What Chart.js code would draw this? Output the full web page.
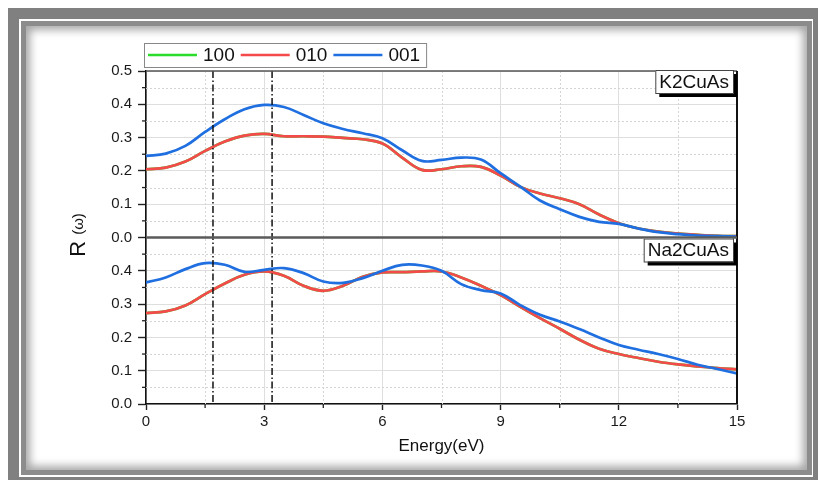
<!DOCTYPE html>
<html>
<head>
<meta charset="utf-8">
<script src="https://cdn.jsdelivr.net/npm/chart.js@4/dist/chart.umd.min.js"></script>
<style>
  html, body { margin: 0; padding: 0; background: #fff; width: 818px; height: 480px; overflow: hidden; }
  #outer { position: absolute; left: 8px; top: 8px; width: 794px; height: 458px; border: 11px solid #808080; }
  #inner { position: absolute; left: 21px; top: 21px; width: 781px; height: 444px; border: 5px solid #8c8c8c;
           box-shadow: inset 0 0 9px 4px rgba(0,0,0,0.35); }
  #wrap { position: absolute; left: 0; top: 0; width: 818px; height: 480px; }
</style>
</head>
<body>
<div id="outer"></div>
<div id="inner"></div>
<div id="wrap"><canvas id="chart" width="818" height="480"></canvas></div>
<script>
// Photon energy grid (eV)
const energy = [0, 0.5, 1, 1.5, 2, 2.5, 3, 3.5, 4, 4.5, 5, 5.5, 6, 6.5, 7, 7.5,
                8, 8.5, 9, 9.5, 10, 10.5, 11, 11.5, 12, 12.5, 13, 13.5, 14, 14.5, 15];

// Reflectivity R(w) of K2CuAs along [100], [010], [001]
const k2_100 = [0.205, 0.210, 0.228, 0.260, 0.288, 0.306, 0.311, 0.304, 0.304, 0.303, 0.299, 0.295, 0.282, 0.240, 0.203, 0.205,
                0.214, 0.212, 0.186, 0.152, 0.132, 0.118, 0.100, 0.069, 0.043, 0.027, 0.018, 0.012, 0.008, 0.005, 0.004];
const k2_010 = [0.205, 0.210, 0.228, 0.260, 0.288, 0.306, 0.311, 0.304, 0.304, 0.303, 0.299, 0.295, 0.282, 0.240, 0.203, 0.205,
                0.214, 0.212, 0.186, 0.152, 0.132, 0.118, 0.100, 0.069, 0.043, 0.027, 0.018, 0.012, 0.008, 0.005, 0.004];
const k2_001 = [0.245, 0.252, 0.275, 0.317, 0.355, 0.385, 0.398, 0.392, 0.368, 0.343, 0.326, 0.313, 0.298, 0.262, 0.230, 0.233,
                0.240, 0.234, 0.193, 0.153, 0.111, 0.085, 0.062, 0.047, 0.041, 0.027, 0.016, 0.010, 0.006, 0.004, 0.003];

// Reflectivity R(w) of Na2CuAs along [100], [010], [001]
const na2_100 = [0.273, 0.278, 0.296, 0.330, 0.362, 0.388, 0.398, 0.385, 0.355, 0.340, 0.355, 0.382, 0.395, 0.396, 0.398, 0.398,
                 0.380, 0.355, 0.327, 0.292, 0.258, 0.226, 0.193, 0.166, 0.150, 0.138, 0.127, 0.119, 0.113, 0.108, 0.104];
const na2_010 = [0.273, 0.278, 0.296, 0.330, 0.362, 0.388, 0.398, 0.385, 0.355, 0.340, 0.355, 0.382, 0.395, 0.396, 0.398, 0.398,
                 0.380, 0.355, 0.327, 0.292, 0.258, 0.226, 0.193, 0.166, 0.150, 0.138, 0.127, 0.119, 0.113, 0.108, 0.104];
const na2_001 = [0.365, 0.380, 0.405, 0.423, 0.418, 0.397, 0.403, 0.408, 0.393, 0.368, 0.364, 0.378, 0.400, 0.418, 0.416, 0.400,
                 0.360, 0.342, 0.332, 0.297, 0.268, 0.248, 0.225, 0.200, 0.177, 0.163, 0.150, 0.135, 0.118, 0.105, 0.092];

const seriesLabels = ['100', '010', '001'];
const panelNames = ['K2CuAs', 'Na2CuAs'];
const xTicks = [0, 3, 6, 9, 12, 15];
const xMinorTicks = [1.5, 4.5, 7.5, 10.5, 13.5];
const yTicksTop = [0, 0.1, 0.2, 0.3, 0.4, 0.5];
const yTicksBottom = [0, 0.1, 0.2, 0.3, 0.4];
const yMinorTicks = [0.05, 0.15, 0.25, 0.35, 0.45];
const markerEnergies = [1.7, 3.2];   // band-edge markers

const seriesColors = ['#2bdc2b', '#f54a4a', '#1f6fe0'];
const FONT = 'Arial, "Liberation Sans", sans-serif';

function points(arr) {
  return energy.map((e, i) => ({ x: e, y: arr[i] }));
}

function makeSet(label, values, colorIdx, axis) {
  return {
    label: label,
    data: points(values),
    yAxisID: axis,
    borderColor: seriesColors[colorIdx],
    borderWidth: 2.7,
    pointRadius: 0,
    fill: false,
    tension: 0.4,
    order: 2 - colorIdx
  };
}

const datasets = [
  makeSet(seriesLabels[0], k2_100, 0, 'yTop'),
  makeSet(seriesLabels[1], k2_010, 1, 'yTop'),
  makeSet(seriesLabels[2], k2_001, 2, 'yTop'),
  makeSet(seriesLabels[0], na2_100, 0, 'yBot'),
  makeSet(seriesLabels[1], na2_010, 1, 'yBot'),
  makeSet(seriesLabels[2], na2_001, 2, 'yBot')
];

function yScaleOpts(tickList, weight) {
  return {
    type: 'linear',
    position: 'left',
    stack: 'panels',
    stackWeight: 1,
    weight: weight,
    min: 0,
    max: 0.5,
    afterBuildTicks: s => { s.ticks = tickList.map(v => ({ value: v })); },
    afterFit: s => { s.width = 146; },
    ticks: {
      font: { family: FONT, size: 15 },
      color: '#1a1a1a',
      padding: 6,
      autoSkip: false,
      callback: v => Number(v).toFixed(1)
    },
    grid: { color: '#dedede', lineWidth: 1, tickColor: '#222', tickLength: 8, tickWidth: 1.4 },
    border: { color: '#111', width: 1.6 }
  };
}

// Minor grid, minor ticks, panel frame, markers, tags, legend and y title
const decor = {
  id: 'decor',
  beforeDatasetsDraw(chart) {
    const { ctx, chartArea: a } = chart;
    const x = chart.scales.x, yt = chart.scales.yTop, yb = chart.scales.yBot;
    ctx.save();
    ctx.strokeStyle = '#d4d4d4';
    ctx.lineWidth = 1;
    ctx.setLineDash([2, 2]);
    xMinorTicks.forEach(v => {
      const px = Math.round(x.getPixelForValue(v)) + 0.5;
      ctx.beginPath(); ctx.moveTo(px, a.top); ctx.lineTo(px, a.bottom); ctx.stroke();
    });
    [yt, yb].forEach(s => {
      yMinorTicks.forEach(v => {
        const py = Math.round(s.getPixelForValue(v)) + 0.5;
        ctx.beginPath(); ctx.moveTo(a.left, py); ctx.lineTo(a.right, py); ctx.stroke();
      });
    });
    ctx.restore();
  },
  afterDatasetsDraw(chart) {
    const { ctx, chartArea: a } = chart;
    const x = chart.scales.x, yt = chart.scales.yTop, yb = chart.scales.yBot;
    ctx.save();

    // dash-dot markers
    ctx.strokeStyle = '#111';
    ctx.lineWidth = 1.5;
    ctx.setLineDash([7, 2.5, 1.5, 2.5]);
    markerEnergies.forEach(e => {
      const px = x.getPixelForValue(e);
      ctx.beginPath(); ctx.moveTo(px, a.top); ctx.lineTo(px, a.bottom); ctx.stroke();
    });
    ctx.setLineDash([]);

    // minor ticks
    ctx.strokeStyle = '#222';
    ctx.lineWidth = 1.3;
    xMinorTicks.forEach(v => {
      const px = x.getPixelForValue(v);
      ctx.beginPath(); ctx.moveTo(px, a.bottom); ctx.lineTo(px, a.bottom + 4); ctx.stroke();
    });
    [yt, yb].forEach(s => {
      yMinorTicks.forEach(v => {
        const py = s.getPixelForValue(v);
        ctx.beginPath(); ctx.moveTo(a.left, py); ctx.lineTo(a.left - 4, py); ctx.stroke();
      });
    });

    // panel frame
    ctx.strokeStyle = '#555';
    ctx.lineWidth = 1.6;
    ctx.beginPath(); ctx.moveTo(a.left, a.top); ctx.lineTo(a.right, a.top); ctx.stroke();
    ctx.strokeStyle = '#111';
    ctx.lineWidth = 2;
    ctx.beginPath(); ctx.moveTo(a.right, a.top); ctx.lineTo(a.right, a.bottom); ctx.stroke();
    ctx.strokeStyle = '#5a5a5a';
    ctx.lineWidth = 2.4;
    const mid = yt.getPixelForValue(0);
    ctx.beginPath(); ctx.moveTo(a.left, mid); ctx.lineTo(a.right, mid); ctx.stroke();

    // panel tags
    function tag(text, right, top) {
      ctx.font = '19px ' + FONT;
      const w = ctx.measureText(text).width + 8, h = 23;
      const left = right - w;
      ctx.fillStyle = '#000';
      ctx.fillRect(left + 4, top + 4, w, h);
      ctx.fillStyle = '#fff';
      ctx.fillRect(left, top, w, h);
      ctx.strokeStyle = '#444';
      ctx.lineWidth = 1;
      ctx.strokeRect(left + 0.5, top + 0.5, w, h);
      ctx.fillStyle = '#111';
      ctx.textAlign = 'center';
      ctx.textBaseline = 'middle';
      ctx.fillText(text, left + w / 2, top + h / 2 + 1);
    }
    tag(panelNames[0], a.right - 4, a.top - 1);
    tag(panelNames[1], a.right - 4, mid + 1);

    // legend
    ctx.font = '19px ' + FONT;
    const lgTop = a.top - 28, lgH = 24, lgLeft = a.left - 2;
    let cx = lgLeft + 4;
    const items = seriesLabels.map((t, i) => ({ t, c: seriesColors[i] }));
    let total = 4;
    items.forEach(it => { total += 49 + 6 + ctx.measureText(it.t).width + 6; });
    ctx.fillStyle = '#fff';
    ctx.fillRect(lgLeft, lgTop, total, lgH);
    ctx.strokeStyle = '#888';
    ctx.lineWidth = 1;
    ctx.strokeRect(lgLeft + 0.5, lgTop + 0.5, total, lgH);
    items.forEach(it => {
      const cy = lgTop + lgH / 2;
      ctx.strokeStyle = it.c;
      ctx.lineWidth = 2.5;
      ctx.beginPath(); ctx.moveTo(cx, cy); ctx.lineTo(cx + 49, cy); ctx.stroke();
      cx += 49 + 6;
      ctx.fillStyle = '#111';
      ctx.textAlign = 'left';
      ctx.textBaseline = 'middle';
      ctx.fillText(it.t, cx, cy + 1);
      cx += ctx.measureText(it.t).width + 6;
    });

    // y title
    ctx.translate(79, 235);
    ctx.rotate(-Math.PI / 2);
    ctx.fillStyle = '#111';
    ctx.textBaseline = 'middle';
    ctx.textAlign = 'left';
    ctx.font = '22px ' + FONT;
    const rW = ctx.measureText('R ').width;
    ctx.font = '15px ' + FONT;
    const wW = ctx.measureText('(\u03c9)').width;
    let tx = -(rW + wW) / 2;
    ctx.font = '22px ' + FONT;
    ctx.fillText('R ', tx, 0);
    ctx.font = '15px ' + FONT;
    ctx.fillText('(\u03c9)', tx + rW, 0);

    ctx.restore();
  }
};

new Chart(document.getElementById('chart'), {
  type: 'line',
  data: { datasets },
  options: {
    responsive: false,
    animation: false,
    layout: { padding: { left: 0, top: 71, right: 81, bottom: 19 } },
    plugins: { legend: { display: false }, tooltip: { enabled: false } },
    scales: {
      x: {
        type: 'linear',
        position: 'bottom',
        min: 0,
        max: 15,
        afterBuildTicks: s => { s.ticks = xTicks.map(v => ({ value: v })); },
        afterFit: s => { s.height = 57; },
        ticks: {
          font: { family: FONT, size: 15 },
          color: '#1a1a1a',
          padding: 3,
          maxRotation: 0,
          autoSkip: false,
          callback: v => String(v)
        },
        grid: { color: '#dedede', lineWidth: 1, tickColor: '#222', tickLength: 6, tickWidth: 1.4 },
        border: { color: '#111', width: 1.6 },
        title: {
          display: true,
          text: 'Energy(eV)',
          font: { family: FONT, size: 17 },
          color: '#111',
          padding: { top: 8, bottom: 4 }
        }
      },
      yTop: yScaleOpts(yTicksTop, 1),
      yBot: yScaleOpts(yTicksBottom, 0)
    }
  },
  plugins: [decor]
});
</script>
</body>
</html>
